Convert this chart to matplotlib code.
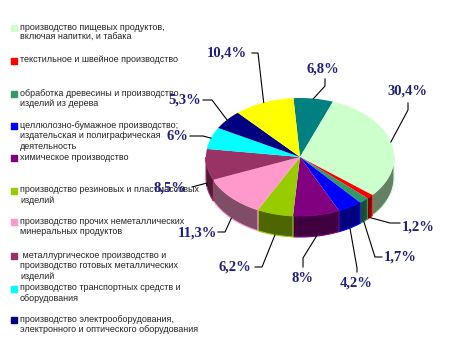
import numpy as np
import matplotlib.pyplot as plt
from matplotlib.patches import Polygon
from matplotlib.colors import to_rgb

# shares of industries, clockwise from the top
values = [6.8, 30.4, 1.2, 1.7, 4.2, 8, 6.2, 11.3, 8.5, 6, 5.3, 10.4]
colors = ['#008080', '#CCFFCC', '#FF0000', '#339966', '#0000FF', '#800080',
          '#99CC00', '#FF99CC', '#993366', '#00FFFF', '#000080', '#FFFF00']

legend_labels = [
    "производство пищевых продуктов,\nвключая напитки, и табака",
    "текстильное и швейное производство",
    "обработка древесины и производство\nизделий из дерева",
    "целлюлозно-бумажное производство;\nиздательская и полиграфическая\nдеятельность",
    "химическое производство",
    "производство резиновых и пластмассовых\nизделий",
    "производство прочих неметаллических\nминеральных продуктов",
    " металлургическое производство и\nпроизводство готовых металлических\nизделий",
    "производство транспортных средств и\nоборудования",
    "производство электрооборудования,\nэлектронного и оптического оборудования",
]
legend_colors = colors[1:11]

# layout (pixel coordinates, y down)
cx, cy, rx, ry, depth = 300, 157, 94, 59, 21
start = 94.0
label_pos = [(323, 69), (407, 91), (418, 227), (400, 257), (356, 283), (302, 278),
             (235, 267), (197, 233), (170, 188), (177, 137), (185, 100), (227, 53)]
elbows = [(325, 86), (408, 110), (390, 223), (375, 257), (357, 268), (303, 258),
          (262, 267), (225, 232), (207, 183), (203, 136), (212, 100), (258, 53)]
ends = [(325, 79), (408, 103), (400, 223), (382, 257), (357, 272), (303, 267),
        (255, 267), (218, 232), (192, 187), (190, 136), (203, 100), (252, 53)]
legend_y = [28, 61, 94, 126, 158, 191, 222, 256, 289, 320]

fig = plt.figure(figsize=(4.58, 3.56), dpi=100)
ax = fig.add_axes([0, 0, 1, 1])
ax.set_xlim(0, 458)
ax.set_ylim(356, 0)
ax.axis('off')


def ell(t, dy=0.0):
    r = np.radians(t)
    return cx + rx * np.cos(r), cy - ry * np.sin(r) + dy


angles = start - np.cumsum([0] + values) * 3.6
wedges = []
for i, v in enumerate(values):
    t2, t1 = angles[i], angles[i + 1]
    wedges.append((t1, t2))
    # side wall on the front half
    for off in (-360, 0, 360):
        a, b = max(t1, -180 + off), min(t2, 0 + off)
        if a < b:
            ts = np.linspace(a, b, 40)
            xt, yt = ell(ts)
            xb, yb = ell(ts[::-1], depth)
            pts = np.column_stack([np.r_[xt, xb], np.r_[yt, yb]])
            dark = tuple(c * 0.5 for c in to_rgb(colors[i]))
            ax.add_patch(Polygon(pts, closed=True, facecolor=dark,
                                 edgecolor=colors[i], lw=0.8, zorder=2))

for i, (t1, t2) in enumerate(wedges):
    ts = np.linspace(t1, t2, 60)
    xs, ys = ell(ts)
    pts = np.column_stack([np.r_[cx, xs], np.r_[cy, ys]])
    ax.add_patch(Polygon(pts, closed=True, facecolor=colors[i],
                         edgecolor='none', zorder=3))

# labels with leader lines
for i, v in enumerate(values):
    t1, t2 = wedges[i]
    mid = (t1 + t2) / 2
    front = np.sin(np.radians(mid)) < 0
    ax_, ay_ = ell(mid, depth if front else 0)
    ex, ey = elbows[i]
    fx, fy = ends[i]
    ax.plot([ax_, ex, fx], [ay_, ey, fy], color='black', lw=0.8, zorder=4)
    txt = f"{v:g}".replace('.', ',') + '%'
    ax.text(label_pos[i][0], label_pos[i][1], txt, ha='center', va='center',
            fontsize=10.5, fontweight='bold', family='Liberation Serif',
            color='#1f1f7a', zorder=6)

# legend
for lab, col, y in zip(legend_labels, legend_colors, legend_y):
    ax.scatter([14], [y], marker='s', s=20, color=col, zorder=5)
    ax.text(20, y - 5.5, lab, ha='left', va='top', fontsize=6.5,
            family='Liberation Sans', color='#222222', linespacing=1.25, zorder=5)

fig.savefig('out.png', dpi=100)
